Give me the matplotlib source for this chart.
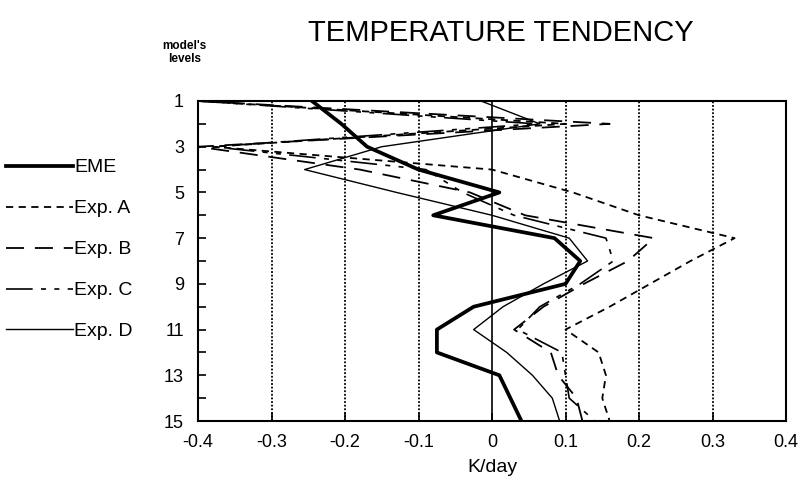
import matplotlib
matplotlib.use("Agg")
import matplotlib.pyplot as plt

plt.rcParams['font.family'] = ['Liberation Sans', 'DejaVu Sans']

# model levels (1 = top)
levels = list(range(1, 16))

# temperature tendency, K/day
eme   = [-0.245, -0.205, -0.17, -0.10, 0.01, -0.08, 0.085, 0.12, 0.10, -0.025, -0.075, -0.075, 0.01, 0.025, 0.04]
exp_a = [-0.40, 0.10, -0.38, 0.0, 0.11, 0.20, 0.33, 0.27, 0.215, 0.16, 0.10, 0.145, 0.155, 0.15, 0.16]
exp_b = [-0.40, 0.16, -0.40, -0.18, -0.03, 0.045, 0.22, 0.185, 0.125, 0.07, 0.03, 0.08, 0.09, 0.115, 0.123]
exp_c = [-0.40, 0.06, -0.38, -0.09, -0.04, 0.03, 0.155, 0.165, 0.12, 0.065, 0.035, 0.095, 0.10, 0.105, 0.14]
exp_d = [-0.015, 0.065, -0.15, -0.255, -0.13, 0.0, 0.105, 0.13, 0.07, 0.015, -0.025, 0.02, 0.055, 0.082, 0.092]

xticks = [-0.4, -0.3, -0.2, -0.1, 0, 0.1, 0.2, 0.3, 0.4]
xlabels = ["-0.4", "-0.3", "-0.2", "-0.1", "0", "0.1", "0.2", "0.3", "0.4"]

fig = plt.figure(figsize=(8.02, 4.8), dpi=100)
ax = fig.add_axes([0.2469, 0.1229, 0.7332, 0.6667])

# vertical grid: dotted, solid at zero
for x in xticks[1:-1]:
    if x == 0:
        ax.axvline(x, color='black', lw=1.2, zorder=1)
    else:
        ax.axvline(x, color='black', lw=1.3, ls=(0, (1, 1)), zorder=1)

ax.plot(eme, levels, color='black', lw=2.7, label='EME', zorder=5)
ax.plot(exp_a, levels, color='black', lw=1.3, ls=(0, (4, 3)), label='Exp. A')
ax.plot(exp_b, levels, color='black', lw=1.3, ls=(0, (10, 6)), label='Exp. B')
ax.plot(exp_c, levels, color='black', lw=1.2, ls=(0, (16, 5, 3, 5, 3, 5)), label='Exp. C')
ax.plot(exp_d, levels, color='black', lw=1.0, label='Exp. D')

ax.set_xlim(-0.4, 0.4)
ax.set_ylim(15, 1)
ax.set_xticks(xticks)
ax.set_xticklabels(xlabels)
ax.set_yticks(levels)
ax.set_yticklabels([str(l) if l % 2 == 1 else "" for l in levels])
ax.tick_params(axis='both', direction='in', length=6, width=1.2, labelsize=13, colors='black')
ax.tick_params(axis='y', pad=10)
ax.tick_params(axis='x', pad=9)
for s in ax.spines.values():
    s.set_linewidth(1.5)

ax.set_xlabel("K/day", fontsize=14, labelpad=6)

fig.text(0.625, 0.932, "TEMPERATURE TENDENCY", fontsize=21, ha='center', va='center')
fig.text(0.23, 0.905, "model's", fontsize=8.5, fontweight='bold', ha='center', va='center')
fig.text(0.23, 0.877, "levels", fontsize=8.5, fontweight='bold', ha='center', va='center')

fig.legend(loc='upper left', bbox_to_anchor=(0.008, 0.669), frameon=False, fontsize=14,
           handlelength=3.4, handletextpad=0.08, labelspacing=1.2,
           borderpad=0, borderaxespad=0)

fig.savefig("out.png", dpi=100)
